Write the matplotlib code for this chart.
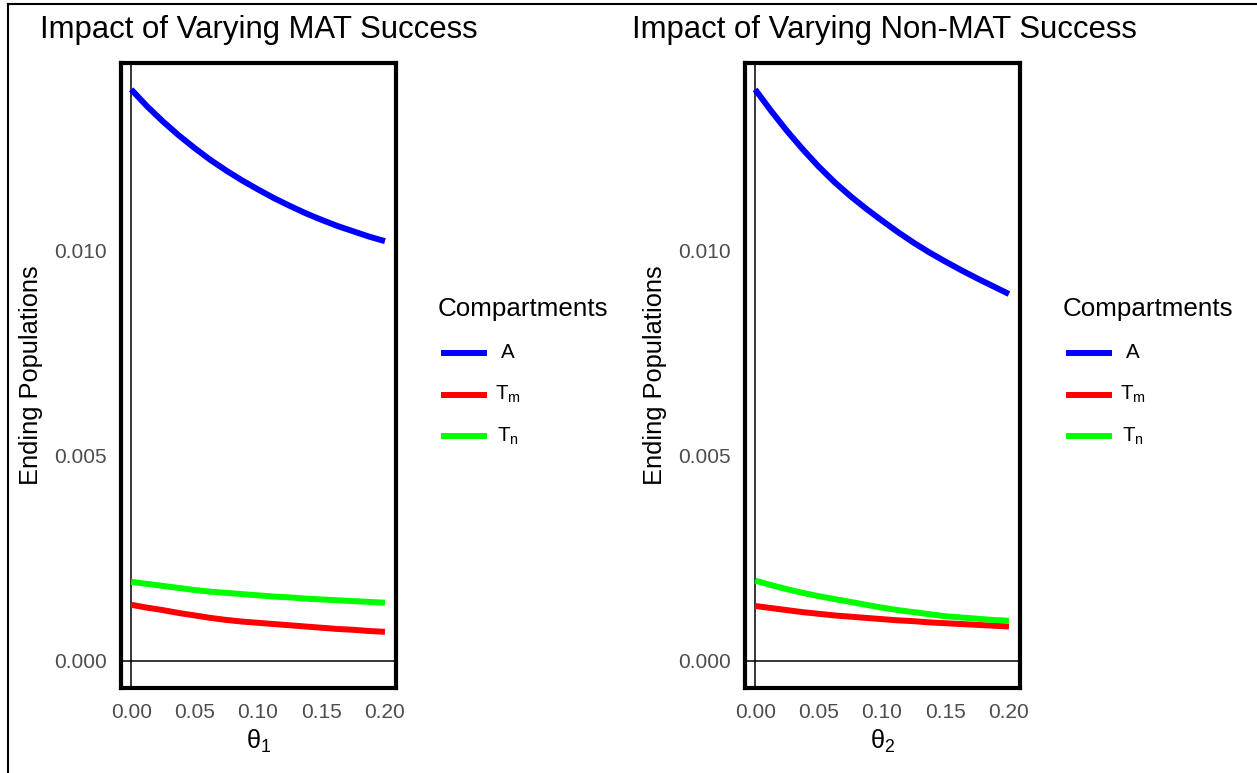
import matplotlib
matplotlib.use("Agg")
import matplotlib.pyplot as plt
from matplotlib.lines import Line2D

plt.rcParams['font.family'] = ['Liberation Sans', 'DejaVu Sans']
plt.rcParams['mathtext.default'] = 'regular'

# theta values where the ending populations were computed
theta = [0.0, 0.0125, 0.025, 0.0375, 0.05, 0.0625, 0.075, 0.0875, 0.1,
         0.1125, 0.125, 0.1375, 0.15, 0.1625, 0.175, 0.1875, 0.2]

# varying MAT success (theta_1)
mat_A = [0.01394, 0.01353, 0.01316, 0.01282, 0.01251, 0.01222, 0.01196, 0.01172, 0.01150,
         0.01129, 0.01110, 0.01092, 0.01076, 0.01061, 0.01048, 0.01035, 0.01024]
mat_Tm = [0.00137, 0.00130, 0.00124, 0.00117, 0.00111, 0.00105, 0.00100, 0.00096, 0.00093,
          0.00090, 0.00087, 0.00084, 0.00081, 0.00078, 0.00076, 0.00073, 0.00071]
mat_Tn = [0.00193, 0.00188, 0.00183, 0.00178, 0.00173, 0.00169, 0.00166, 0.00163, 0.00160,
          0.00157, 0.00155, 0.00152, 0.00150, 0.00148, 0.00146, 0.00144, 0.00142]

# varying non-MAT success (theta_2)
non_A = [0.01394, 0.01342, 0.01293, 0.01248, 0.01206, 0.01168, 0.01134, 0.01103, 0.01074,
         0.01046, 0.01020, 0.00996, 0.00974, 0.00953, 0.00933, 0.00914, 0.00895]
non_Tm = [0.00134, 0.00129, 0.00124, 0.00119, 0.00115, 0.00111, 0.00108, 0.00105, 0.00102,
          0.00099, 0.00097, 0.00094, 0.00092, 0.00090, 0.00088, 0.00086, 0.00084]
non_Tn = [0.00196, 0.00185, 0.00175, 0.00166, 0.00158, 0.00151, 0.00144, 0.00137, 0.00130,
          0.00124, 0.00119, 0.00114, 0.00109, 0.00106, 0.00103, 0.00100, 0.00098]

compartments = ['A', 'T$_{m}$', 'T$_{n}$']
colores = ['#0000FF', '#FF0000', '#00FF00']
x_ticks = [0.0, 0.05, 0.10, 0.15, 0.20]
x_ticklabels = ['0.00', '0.05', '0.10', '0.15', '0.20']
y_ticks = [0.0, 0.005, 0.010]
y_ticklabels = ['0.000', '0.005', '0.010']

W, H = 1257, 773
fig = plt.figure(figsize=(W / 100, H / 100), dpi=100)

paneles = [
    (121, 'Impact of Varying MAT Success', r'$\theta_{1}$', [mat_A, mat_Tm, mat_Tn], 40, 438),
    (745, 'Impact of Varying Non-MAT Success', r'$\theta_{2}$', [non_A, non_Tm, non_Tn], 632, 1063),
]

for x0, titulo, xlabel, series, x_titulo, x_leyenda in paneles:
    ax = fig.add_axes([x0 / W, 1 - 688 / H, 275 / W, 625 / H])
    ax.axhline(0, color='black', lw=1.1, zorder=1)
    ax.axvline(0, color='black', lw=1.1, zorder=1)
    for valores, color in zip(series, colores):
        ax.plot(theta, valores, color=color, lw=4.3, solid_capstyle='butt',
                solid_joinstyle='round', zorder=2)

    ax.set_xlim(-0.008, 0.2087)
    ax.set_ylim(-0.00066, 0.014585)
    ax.set_xticks(x_ticks)
    ax.set_xticklabels(x_ticklabels)
    ax.set_yticks(y_ticks)
    ax.set_yticklabels(y_ticklabels)
    ax.tick_params(length=0, labelsize=15, labelcolor='#4D4D4D')
    ax.tick_params(axis='y', pad=10)
    ax.tick_params(axis='x', pad=11)
    for s in ax.spines.values():
        s.set_linewidth(3)
        s.set_color('black')
    ax.set_xlabel(xlabel, fontsize=18.3, labelpad=4)
    ax.set_ylabel('Ending Populations', fontsize=18.3, labelpad=8)

    fig.text(x_titulo / W, 1 - 30 / H, titulo, fontsize=22.4, va='center', ha='left')

    # legend drawn by hand: title, swatches and centred labels
    fig.text(x_leyenda / W, 1 - 309 / H, 'Compartments', fontsize=18.7, va='center', ha='left')
    for i, (nombre, color) in enumerate(zip(compartments, colores)):
        y = 1 - (353 + 41.5 * i) / H
        fig.add_artist(Line2D([(x_leyenda + 3) / W, (x_leyenda + 49) / W], [y, y],
                              color=color, lw=4.3, solid_capstyle='butt'))
        fig.text((x_leyenda + 70) / W, y, nombre, fontsize=14.8, va='center', ha='center')

# frame lines on the left and top edges
fig.add_artist(Line2D([8.3 / W, 8.3 / W], [0, 1 - 4.3 / H], color='black', lw=1.5))
fig.add_artist(Line2D([8.3 / W, 1], [1 - 4.3 / H, 1 - 4.3 / H], color='black', lw=1.5))

fig.savefig('out.png', dpi=100)
